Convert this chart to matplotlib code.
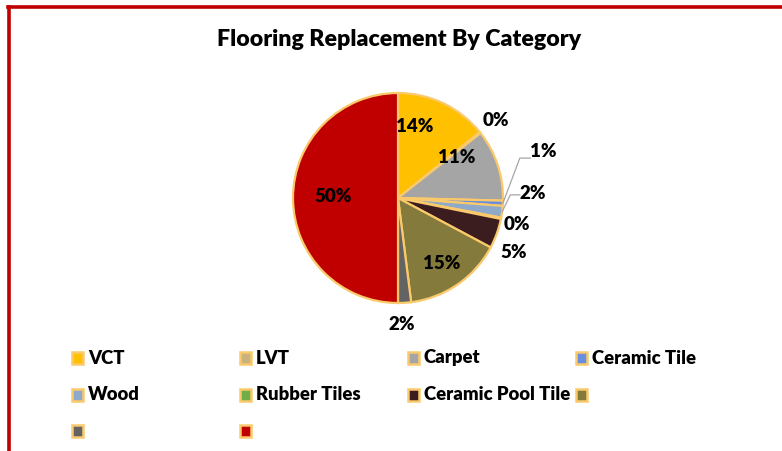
import matplotlib.pyplot as plt
import numpy as np
from matplotlib.patches import Rectangle
from matplotlib.lines import Line2D

# data
categories = ['VCT', 'LVT', 'Carpet', 'Ceramic Tile', 'Wood', 'Rubber Tiles',
              'Ceramic Pool Tile', '', '', '']
shares = [14.2, 0.2, 11.0, 0.8, 1.8, 0.2, 4.6, 15.2, 2.0, 50.0]
colors = ['#FFC000', '#C9B27C', '#A5A5A5', '#6A8EDF', '#8EA9C9', '#70AD47',
          '#3B1C1F', '#847A3C', '#636363', '#C00000']
EDGE = '#FAC96B'

# label positions (pie radius = 1)
label_pos = [(0.16, 0.68), (0.93, 0.74), (0.56, 0.39), (1.38, 0.44), (1.28, 0.045),
             (1.13, -0.25), (1.10, -0.52), (0.42, -0.62), (0.04, -1.20), (-0.62, 0.01)]
leader = {3: (1.16, 0.38, 1.26), 4: (1.07, 0.03, 1.16)}

W, H = 782, 451
plt.rcParams['font.family'] = ['Lato', 'DejaVu Sans']
WEIGHT = 'heavy'
fig = plt.figure(figsize=(W / 100, H / 100), dpi=100)

# pie axes: centre (398,198) px, radius 105 px
cx, cy, R = 398, 198, 105
half = 150
ax = fig.add_axes([(cx - half) / W, (H - cy - half) / H, 2 * half / W, 2 * half / H])
ax.axis('off')

wedges, _ = ax.pie(shares, colors=colors, startangle=90, counterclock=False,
                   radius=1, wedgeprops=dict(edgecolor=EDGE, linewidth=1.6))
ax.set_xlim(-half / R, half / R)
ax.set_ylim(-half / R, half / R)

for i, (s, w) in enumerate(zip(shares, wedges)):
    x, y = label_pos[i]
    ax.text(x, y, f'{round(s):.0f}%', ha='center', va='center', fontsize=13.5,
            fontweight=WEIGHT, color='black')
    if i in leader:
        mid = np.deg2rad((w.theta1 + w.theta2) / 2)
        kx, ky, ex = leader[i]
        ax.plot([np.cos(mid), kx, ex], [np.sin(mid), ky, ky], color='#A6A6A6',
                lw=0.9, clip_on=False)

fig.text(399 / W, 1 - 40 / H, 'Flooring Replacement By Category', ha='center',
         va='center', fontsize=16.7, fontweight=WEIGHT)

# legend, 4 columns
col_x = [71, 239, 407, 575]
row_y = [358, 395, 431]
for i, (name, c) in enumerate(zip(categories, colors)):
    px = col_x[i % 4]
    py = row_y[i // 4]
    fig.add_artist(Rectangle(((px + 1) / W, 1 - (py + 6) / H), 11 / W, 12 / H,
                             transform=fig.transFigure, facecolor=c,
                             edgecolor=EDGE, linewidth=1.8))
    fig.text((px + 17) / W, 1 - py / H, name, ha='left', va='center',
             fontsize=13.3, fontweight=WEIGHT)

# red frame
fig.add_artist(Line2D([8.5 / W, 8.5 / W], [0, 1 - 6.5 / H], color='#C00000',
                      lw=2.6, transform=fig.transFigure))
fig.add_artist(Line2D([7.5 / W, 1], [1 - 6.5 / H, 1 - 6.5 / H], color='#C00000',
                      lw=2.6, transform=fig.transFigure))

fig.savefig('out.png', dpi=100)
